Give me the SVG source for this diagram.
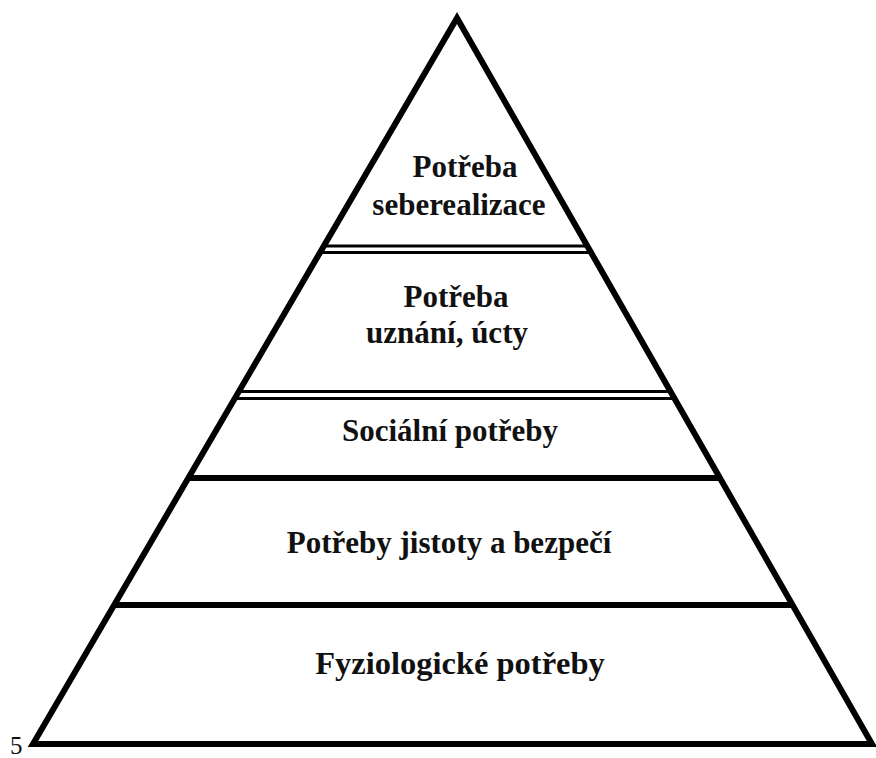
<svg xmlns="http://www.w3.org/2000/svg" width="876" height="758" viewBox="0 0 876 758">
<style>
.lbl{font-family:"Liberation Serif","Times New Roman",serif;font-weight:bold;font-size:31px;fill:#111;text-anchor:middle}
.thin{stroke:#000;stroke-width:3;fill:none}
.thick{stroke:#000;stroke-width:6;fill:none}
</style>
<rect width="876" height="758" fill="#fff"/>
<g id="connectors">
<polygon points="457,18 33,744 872,744" fill="none" stroke="#000" stroke-width="6" stroke-linejoin="miter" stroke-miterlimit="10"/>
<line class="thin" x1="324" y1="246" x2="587" y2="246"/>
<line class="thin" x1="320" y1="252.5" x2="590" y2="252.5"/>
<line class="thin" x1="239" y1="391.5" x2="670" y2="391.5"/>
<line class="thin" x1="235" y1="398.5" x2="674" y2="398.5"/>
<line class="thick" x1="188" y1="478" x2="719" y2="478"/>
<line class="thick" x1="114" y1="605" x2="792" y2="605"/>
</g>
<g id="level5"><text class="lbl" x="465" y="177">Potřeba</text><text class="lbl" x="459" y="215">seberealizace</text></g>
<g id="level4"><text class="lbl" x="456" y="307">Potřeba</text><text class="lbl" x="447" y="343">uznání, úcty</text></g>
<g id="level3"><text class="lbl" x="450" y="441">Sociální potřeby</text></g>
<g id="level2"><text class="lbl" x="449" y="553">Potřeby jistoty a bezpečí</text></g>
<g id="level1"><text class="lbl" x="460" y="674" style="font-size:32.5px">Fyziologické potřeby</text></g>
<text x="10" y="754" font-family="Liberation Serif, serif" font-size="25" fill="#111">5</text>
</svg>
